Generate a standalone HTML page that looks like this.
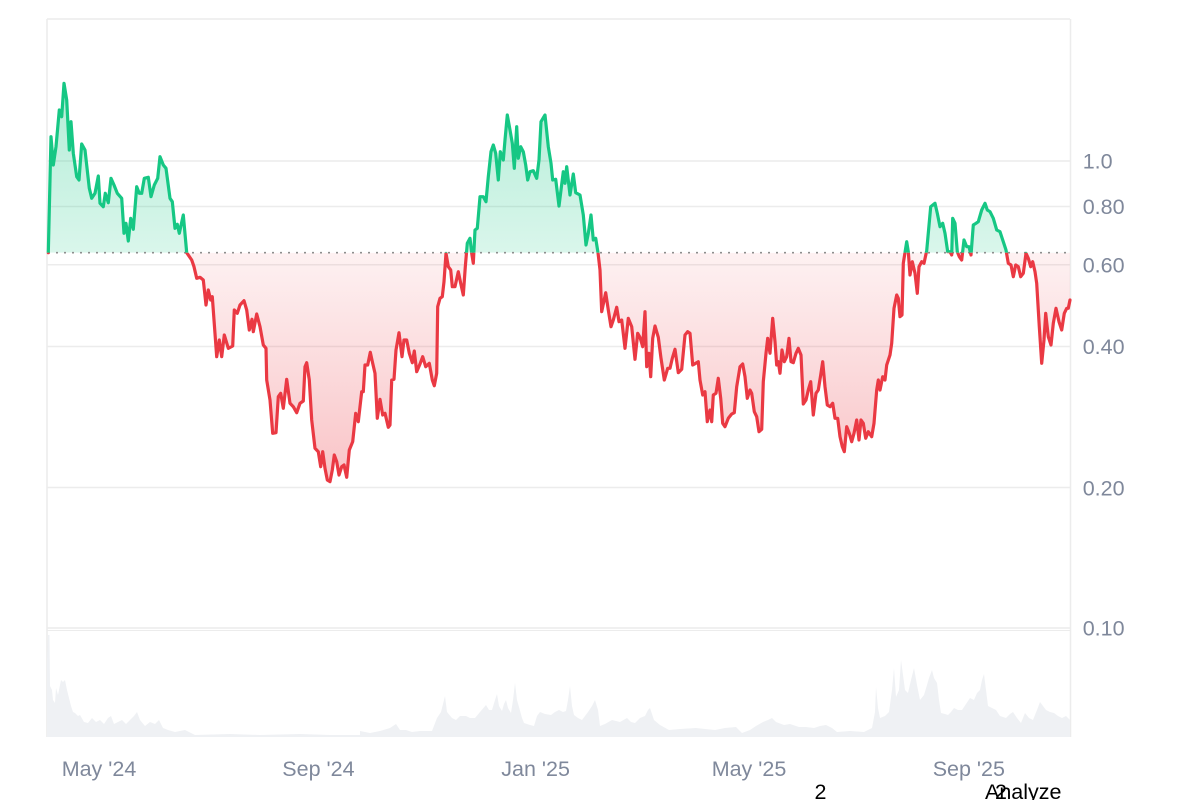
<!DOCTYPE html>
<html><head><meta charset="utf-8"><style>
html,body{margin:0;padding:0;background:#fff;}
body{width:1200px;height:800px;overflow:hidden;}
svg{display:block;}
text{font-family:"Liberation Sans",Arial,sans-serif;}
</style></head><body>
<svg width="1200" height="800" viewBox="0 0 1200 800" xmlns="http://www.w3.org/2000/svg">
<defs>
<linearGradient id="gg" gradientUnits="userSpaceOnUse" x1="0" y1="83" x2="0" y2="253">
<stop offset="0" stop-color="#16c784" stop-opacity="0.33"/>
<stop offset="1" stop-color="#16c784" stop-opacity="0.16"/>
</linearGradient>
<linearGradient id="rg" gradientUnits="userSpaceOnUse" x1="0" y1="253" x2="0" y2="482">
<stop offset="0" stop-color="#ea3943" stop-opacity="0.07"/>
<stop offset="1" stop-color="#ea3943" stop-opacity="0.30"/>
</linearGradient>
<clipPath id="ca"><rect x="0" y="0" width="1200" height="252.7"/></clipPath>
<clipPath id="cb"><rect x="0" y="252.7" width="1200" height="548"/></clipPath>
</defs>

<!-- grid -->
<g stroke="#ececec" stroke-width="1.5" fill="none">
<line x1="47" y1="19" x2="1070" y2="19"/>
<line x1="47" y1="19" x2="47" y2="737"/>
<line x1="1070.5" y1="19" x2="1070.5" y2="737"/>
<line x1="47" y1="161" x2="1070" y2="161"/>
<line x1="47" y1="206.5" x2="1070" y2="206.5"/>
<line x1="47" y1="264.8" x2="1070" y2="264.8"/>
<line x1="47" y1="346.5" x2="1070" y2="346.5"/>
<line x1="47" y1="487.5" x2="1070" y2="487.5"/>
<line x1="47" y1="628" x2="1070" y2="628"/>
<line x1="47" y1="630.5" x2="1070" y2="630.5" stroke-width="1"/>
</g>

<!-- volume -->
<polygon fill="#eff1f4" points="47,737 47,660 48,635 49.5,635 50,686 52,690 53,700 55,703 56,688 58,695 59,690 61,680 63,682 65,680 67,690 69,698 71,706 73,712 75,713 78,716 80,715 84,722 88,723 92,718 96,722 100,720 104,724 108,718 111,716 114,724 118,722 122,720 126,724 130,720 134,716 137,712 140,720 145,726 150,722 155,724 159,720 163,728 168,730 175,732 185,730 195,735 230,734 260,735 300,734 330,735 360,735 360,731 370,733 380,731 390,728 396,724 400,730 406,730 412,732 420,731 432,731 437,718 441,712 445,696 447,712 452,718 456,720 460,716 466,716 470,718 475,718 480,712 486,705 489,710 492,710 495,700 497,694 499,706 502,711 504,704 506,700 508,708 511,713 513,700 515,683 517,700 519,707 522,718 524,723 530,725 534,726 537,716 540,712 545,714 551,715 555,712 559,710 563,712 566,711 568,700 570,686 572,706 574,715 578,718 582,720 588,712 592,706 595,700 598,710 600,726 605,724 612,720 620,722 627,718 631,722 635,723 640,718 645,716 648,710 650,708 652,714 654,720 660,725 669,730 680,729 696,728 705,729 715,730 725,728 736,727 742,733 750,730 756,726 763,722 768,720 772,718 776,722 784,725 790,724 799,727 806,727 814,728 820,726 826,725 832,728 837,732 850,731 864,732 872,728 875,712 876,687 878,708 880,718 885,716 889,712 892,690 894,668 896,697 899,690 901,660 903,675 905,690 908,693 911,680 914,668 917,685 920,700 924,695 927,685 929,678 932,670 934,678 937,683 939,700 941,713 945,714 948,715 951,712 954,708 958,710 962,710 966,704 970,698 974,700 977,693 980,690 982,680 984,674 986,690 988,706 992,708 996,710 1000,716 1006,718 1010,714 1013,712 1017,718 1021,723 1025,713 1029,718 1033,720 1037,710 1040,702 1043,706 1046,710 1050,712 1054,713 1058,716 1062,718 1066,716 1070,720 1070,737"/>

<!-- area fills -->
<polygon fill="url(#gg)" clip-path="url(#ca)" points="48.3,252.7 51,136.7 53.3,165 56,146.7 59.3,110 61.7,116.7 64,83.3 66.7,100 69.3,150 71,121.7 73.3,153.3 76.7,176.7 79,180 81.7,144 85,150 89.3,188.3 91.7,198.3 95,193.3 98.3,176 100,203.3 103.3,206.7 105.3,193.3 108.3,202.7 111,178.3 114,185 117.3,193.3 121.7,198.3 124,233.3 126,223.3 128.3,241 130.7,218.3 133.3,229.3 136.7,186.7 139.3,193.3 141.7,193.3 144.3,178.3 148.3,177.3 151,196.7 154.3,185 157.7,178.3 160,156.7 163.3,165 166,168.3 170,198.3 172.3,201.7 175,228.3 177.3,224.3 179.3,233.3 183.3,215 186.7,252.7 467.3,252.7 467.3,243.3 470,238.3 471.7,253.3 473.3,263.3 475,230 477.3,228.3 480,196.7 483.3,196.7 486,201.7 488.3,176.7 491,151.7 493.3,145 495.7,153.3 498.3,180 500.3,151.7 503.3,160 505,140 507.3,115 510,130 512.3,143.3 514.3,168.3 516.7,126.7 518.3,158.3 520.7,146.7 523.3,151.7 525.7,165 527.7,180 530,171.7 533.3,170.7 536.7,178.3 539,160 541,121.7 545,115 548.3,146.7 551,163.3 552.7,180 555.7,179.3 559,206 561,190 563.3,171.7 565,183.3 566.7,166.7 570,195 573.3,174 575.7,192.7 580,195 583.3,215 586,245 588.3,233.3 591,215 593.3,240 595.7,238.3 598,252.7 903.3,252.7 903.3,263.3 906.7,241.7 908.3,251.7 910,275 912.3,261.7 915,273.3 917.3,293.3 919,266.7 921.7,261.7 924,263.3 926.7,250.7 930.7,206.7 935,203.3 937.3,213.3 940,226.7 942.7,223.3 945,233.3 947.7,251.7 950,251.7 951.7,255 952.7,218.3 955,223.3 957.3,251.7 959.3,256.7 961.7,260 964,240 966.7,246.7 969,246.7 971,255 973.3,225 976,223.3 978.3,221.7 981.7,210 985,203.3 987.3,210 990,211.7 993.3,218.3 996.7,230 1000,231.7 1003.3,241.7 1006,250 1008.3,263.3 1070,252.7"/>

<polygon fill="url(#rg)" clip-path="url(#cb)" points="48.3,252.7 186.7,252.7 191.7,260 194,266.7 196.7,278.3 200,277.3 203.3,280 206,305 208.3,290 210.7,300 212.3,296.7 216.7,356.7 219.3,340 221.7,356.7 224.3,335 228.3,348.3 232.7,346 234.3,310 237.3,313.3 240,305 244,300.7 246.7,310 249.3,330 252,319.3 253.3,331.7 256.7,314 260,326.7 263.3,345 266,348.3 266.7,380 270,400 272.7,433.3 276,432.7 278.3,396.7 280.7,393.3 283.3,408.3 286.7,379.3 290,403.3 293.3,406.7 296.7,412.7 300,403.3 303.3,401 305,366.7 306.7,362.7 309.3,380 311.7,420 315,448.3 318.3,451.7 320.7,466.7 322.7,451.7 325,468.3 327.3,480 330,481.7 332.3,470 334.3,455 336.7,461.7 339,475 341.7,466.7 344,465 346.7,477.3 349.3,450 352.7,441.7 355.7,413.3 358.3,421.7 361.7,391.7 363.3,391.7 365,365 367.7,365 370.3,352.3 372.7,363.3 375,373.3 377.3,418.3 380,399.3 382.7,415 385,413.3 388.3,427.3 390,425 391.7,380 394,379.3 396,350 399,332.7 402,356.7 404,340 406.7,340 409.3,353.3 412.3,362.7 414.3,351 416.7,371.7 420,364 422.7,356.7 425.7,366.7 429.3,363.3 432.3,380 434.3,385.7 436.7,373.3 437.7,306.7 440,298.3 442.3,296.7 444,281.7 446,253.3 448.3,266.7 450.7,270 452.3,286.7 455,286.7 458.3,271.7 460.7,283.3 463.3,295 465.3,266.7 467.3,253.3 470,252.7 471.7,253.3 473.3,263.3 475,252.7 598,252.7 600,270 601.7,311.7 605.7,292.7 608.3,310 611,326.7 613.3,320 616.7,307.3 619,321.7 621.7,320 625,348.3 628.3,318.3 631.7,326.7 635,359.3 637.7,333.3 640,337.3 642.7,346.7 645,311.7 646.7,366.7 649,353.3 650.7,376.7 652.7,338.3 655,326 658.3,337.3 661,358.3 664.3,380 667.7,368.3 670,368.3 672.3,358.3 675,349.3 678.3,372.7 681.7,369.3 685,335 687.7,331.7 690,333.3 692.7,365 695.7,363.3 698.3,361.7 700,380 702.7,395 705,391.7 707.3,421.7 710,410 711.7,421.7 713.3,395 716,393.3 718.3,378.3 720.7,398.3 722.7,423.3 725,426.7 728.3,418.3 731.7,414 734.3,412.7 736.7,386.7 740,366.7 742.7,364 745,376.7 747.3,398.3 750,390 751.7,393.3 754.3,411.7 756.7,416.7 759,431.7 761.7,429.3 763.3,381.7 766,353.3 767.7,338.3 770,353.3 772.7,318.3 775,341.7 776.7,365 778.3,361.7 780,373.3 782,350 784.3,361.7 786.7,356.7 789,338.3 791,361.7 793.3,362.7 796,353.3 798.3,348.3 801,355 803.3,404 806,400 808.3,390 810.7,381.7 813.3,415 816,393.3 818.3,390 820.7,375 822.7,361.7 825,386.7 827.3,405 830,406.7 832.7,403.3 835,418.3 837.7,418.3 840,436.7 842.3,446.7 844.3,451.7 846.7,426.7 849.3,433.3 851.7,441.7 854,433.3 856.7,420 859,440 861,420 863.3,423.3 865.7,438.3 868.3,431.7 871.7,436.7 874,423.3 876.7,390 878.3,380 880,390 882.7,376.7 885,380 886.7,365 890,355 891.7,343.3 894,308.3 896.7,295 898.3,298.3 900,316.7 902,315 903.3,263.3 905,252.7 906.7,252.7 908.3,252.7 910,275 912.3,261.7 915,273.3 917.3,293.3 919,266.7 921.7,261.7 924,263.3 926.7,252.7 950,252.7 951.7,255 953,252.7 957.3,252.7 959.3,256.7 961.7,260 964,252.7 969,252.7 971,255 973,252.7 1006,252.7 1008.3,263.3 1011,265 1013.3,276.7 1015.7,265 1018.3,266.7 1020.7,276.7 1023.3,273.3 1026,253.3 1028.3,258.3 1030.7,266.7 1032.7,261.7 1035,271.7 1036.7,283.3 1039.3,326.7 1041.7,363.3 1044,340 1045.7,313.3 1048.3,336.7 1051,345 1053.3,323.3 1056,308.3 1059,321.7 1061.7,330 1064.3,313.3 1066.7,308.3 1068.3,308.3 1070,300 1070,252.7"/>

<!-- baseline dotted -->
<line x1="48" y1="252.7" x2="1070" y2="252.7" stroke="#8e8e8e" stroke-width="1.7" stroke-dasharray="2 6"/>

<!-- price line: green above baseline -->
<polyline fill="none" stroke-width="3.2" stroke-linejoin="round" stroke-linecap="round" stroke="#16c784" clip-path="url(#ca)" points="48.3,252.7 51,136.7 53.3,165 56,146.7 59.3,110 61.7,116.7 64,83.3 66.7,100 69.3,150 71,121.7 73.3,153.3 76.7,176.7 79,180 81.7,144 85,150 89.3,188.3 91.7,198.3 95,193.3 98.3,176 100,203.3 103.3,206.7 105.3,193.3 108.3,202.7 111,178.3 114,185 117.3,193.3 121.7,198.3 124,233.3 126,223.3 128.3,241 130.7,218.3 133.3,229.3 136.7,186.7 139.3,193.3 141.7,193.3 144.3,178.3 148.3,177.3 151,196.7 154.3,185 157.7,178.3 160,156.7 163.3,165 166,168.3 170,198.3 172.3,201.7 175,228.3 177.3,224.3 179.3,233.3 183.3,215 186.7,252.7 191.7,260 194,266.7 196.7,278.3 200,277.3 203.3,280 206,305 208.3,290 210.7,300 212.3,296.7 216.7,356.7 219.3,340 221.7,356.7 224.3,335 228.3,348.3 232.7,346 234.3,310 237.3,313.3 240,305 244,300.7 246.7,310 249.3,330 252,319.3 253.3,331.7 256.7,314 260,326.7 263.3,345 266,348.3 266.7,380 270,400 272.7,433.3 276,432.7 278.3,396.7 280.7,393.3 283.3,408.3 286.7,379.3 290,403.3 293.3,406.7 296.7,412.7 300,403.3 303.3,401 305,366.7 306.7,362.7 309.3,380 311.7,420 315,448.3 318.3,451.7 320.7,466.7 322.7,451.7 325,468.3 327.3,480 330,481.7 332.3,470 334.3,455 336.7,461.7 339,475 341.7,466.7 344,465 346.7,477.3 349.3,450 352.7,441.7 355.7,413.3 358.3,421.7 361.7,391.7 363.3,391.7 365,365 367.7,365 370.3,352.3 372.7,363.3 375,373.3 377.3,418.3 380,399.3 382.7,415 385,413.3 388.3,427.3 390,425 391.7,380 394,379.3 396,350 399,332.7 402,356.7 404,340 406.7,340 409.3,353.3 412.3,362.7 414.3,351 416.7,371.7 420,364 422.7,356.7 425.7,366.7 429.3,363.3 432.3,380 434.3,385.7 436.7,373.3 437.7,306.7 440,298.3 442.3,296.7 444,281.7 446,253.3 448.3,266.7 450.7,270 452.3,286.7 455,286.7 458.3,271.7 460.7,283.3 463.3,295 465.3,266.7 467.3,243.3 470,238.3 471.7,253.3 473.3,263.3 475,230 477.3,228.3 480,196.7 483.3,196.7 486,201.7 488.3,176.7 491,151.7 493.3,145 495.7,153.3 498.3,180 500.3,151.7 503.3,160 505,140 507.3,115 510,130 512.3,143.3 514.3,168.3 516.7,126.7 518.3,158.3 520.7,146.7 523.3,151.7 525.7,165 527.7,180 530,171.7 533.3,170.7 536.7,178.3 539,160 541,121.7 545,115 548.3,146.7 551,163.3 552.7,180 555.7,179.3 559,206 561,190 563.3,171.7 565,183.3 566.7,166.7 570,195 573.3,174 575.7,192.7 580,195 583.3,215 586,245 588.3,233.3 591,215 593.3,240 595.7,238.3 598,252.7 600,270 601.7,311.7 605.7,292.7 608.3,310 611,326.7 613.3,320 616.7,307.3 619,321.7 621.7,320 625,348.3 628.3,318.3 631.7,326.7 635,359.3 637.7,333.3 640,337.3 642.7,346.7 645,311.7 646.7,366.7 649,353.3 650.7,376.7 652.7,338.3 655,326 658.3,337.3 661,358.3 664.3,380 667.7,368.3 670,368.3 672.3,358.3 675,349.3 678.3,372.7 681.7,369.3 685,335 687.7,331.7 690,333.3 692.7,365 695.7,363.3 698.3,361.7 700,380 702.7,395 705,391.7 707.3,421.7 710,410 711.7,421.7 713.3,395 716,393.3 718.3,378.3 720.7,398.3 722.7,423.3 725,426.7 728.3,418.3 731.7,414 734.3,412.7 736.7,386.7 740,366.7 742.7,364 745,376.7 747.3,398.3 750,390 751.7,393.3 754.3,411.7 756.7,416.7 759,431.7 761.7,429.3 763.3,381.7 766,353.3 767.7,338.3 770,353.3 772.7,318.3 775,341.7 776.7,365 778.3,361.7 780,373.3 782,350 784.3,361.7 786.7,356.7 789,338.3 791,361.7 793.3,362.7 796,353.3 798.3,348.3 801,355 803.3,404 806,400 808.3,390 810.7,381.7 813.3,415 816,393.3 818.3,390 820.7,375 822.7,361.7 825,386.7 827.3,405 830,406.7 832.7,403.3 835,418.3 837.7,418.3 840,436.7 842.3,446.7 844.3,451.7 846.7,426.7 849.3,433.3 851.7,441.7 854,433.3 856.7,420 859,440 861,420 863.3,423.3 865.7,438.3 868.3,431.7 871.7,436.7 874,423.3 876.7,390 878.3,380 880,390 882.7,376.7 885,380 886.7,365 890,355 891.7,343.3 894,308.3 896.7,295 898.3,298.3 900,316.7 902,315 903.3,263.3 906.7,241.7 908.3,251.7 910,275 912.3,261.7 915,273.3 917.3,293.3 919,266.7 921.7,261.7 924,263.3 926.7,250.7 930.7,206.7 935,203.3 937.3,213.3 940,226.7 942.7,223.3 945,233.3 947.7,251.7 950,251.7 951.7,255 952.7,218.3 955,223.3 957.3,251.7 959.3,256.7 961.7,260 964,240 966.7,246.7 969,246.7 971,255 973.3,225 976,223.3 978.3,221.7 981.7,210 985,203.3 987.3,210 990,211.7 993.3,218.3 996.7,230 1000,231.7 1003.3,241.7 1006,250 1008.3,263.3 1011,265 1013.3,276.7 1015.7,265 1018.3,266.7 1020.7,276.7 1023.3,273.3 1026,253.3 1028.3,258.3 1030.7,266.7 1032.7,261.7 1035,271.7 1036.7,283.3 1039.3,326.7 1041.7,363.3 1044,340 1045.7,313.3 1048.3,336.7 1051,345 1053.3,323.3 1056,308.3 1059,321.7 1061.7,330 1064.3,313.3 1066.7,308.3 1068.3,308.3 1070,300"/>

<!-- price line: red below baseline -->
<polyline fill="none" stroke-width="3.2" stroke-linejoin="round" stroke-linecap="round" stroke="#ea3943" clip-path="url(#cb)" points="48.3,252.7 51,136.7 53.3,165 56,146.7 59.3,110 61.7,116.7 64,83.3 66.7,100 69.3,150 71,121.7 73.3,153.3 76.7,176.7 79,180 81.7,144 85,150 89.3,188.3 91.7,198.3 95,193.3 98.3,176 100,203.3 103.3,206.7 105.3,193.3 108.3,202.7 111,178.3 114,185 117.3,193.3 121.7,198.3 124,233.3 126,223.3 128.3,241 130.7,218.3 133.3,229.3 136.7,186.7 139.3,193.3 141.7,193.3 144.3,178.3 148.3,177.3 151,196.7 154.3,185 157.7,178.3 160,156.7 163.3,165 166,168.3 170,198.3 172.3,201.7 175,228.3 177.3,224.3 179.3,233.3 183.3,215 186.7,252.7 191.7,260 194,266.7 196.7,278.3 200,277.3 203.3,280 206,305 208.3,290 210.7,300 212.3,296.7 216.7,356.7 219.3,340 221.7,356.7 224.3,335 228.3,348.3 232.7,346 234.3,310 237.3,313.3 240,305 244,300.7 246.7,310 249.3,330 252,319.3 253.3,331.7 256.7,314 260,326.7 263.3,345 266,348.3 266.7,380 270,400 272.7,433.3 276,432.7 278.3,396.7 280.7,393.3 283.3,408.3 286.7,379.3 290,403.3 293.3,406.7 296.7,412.7 300,403.3 303.3,401 305,366.7 306.7,362.7 309.3,380 311.7,420 315,448.3 318.3,451.7 320.7,466.7 322.7,451.7 325,468.3 327.3,480 330,481.7 332.3,470 334.3,455 336.7,461.7 339,475 341.7,466.7 344,465 346.7,477.3 349.3,450 352.7,441.7 355.7,413.3 358.3,421.7 361.7,391.7 363.3,391.7 365,365 367.7,365 370.3,352.3 372.7,363.3 375,373.3 377.3,418.3 380,399.3 382.7,415 385,413.3 388.3,427.3 390,425 391.7,380 394,379.3 396,350 399,332.7 402,356.7 404,340 406.7,340 409.3,353.3 412.3,362.7 414.3,351 416.7,371.7 420,364 422.7,356.7 425.7,366.7 429.3,363.3 432.3,380 434.3,385.7 436.7,373.3 437.7,306.7 440,298.3 442.3,296.7 444,281.7 446,253.3 448.3,266.7 450.7,270 452.3,286.7 455,286.7 458.3,271.7 460.7,283.3 463.3,295 465.3,266.7 467.3,243.3 470,238.3 471.7,253.3 473.3,263.3 475,230 477.3,228.3 480,196.7 483.3,196.7 486,201.7 488.3,176.7 491,151.7 493.3,145 495.7,153.3 498.3,180 500.3,151.7 503.3,160 505,140 507.3,115 510,130 512.3,143.3 514.3,168.3 516.7,126.7 518.3,158.3 520.7,146.7 523.3,151.7 525.7,165 527.7,180 530,171.7 533.3,170.7 536.7,178.3 539,160 541,121.7 545,115 548.3,146.7 551,163.3 552.7,180 555.7,179.3 559,206 561,190 563.3,171.7 565,183.3 566.7,166.7 570,195 573.3,174 575.7,192.7 580,195 583.3,215 586,245 588.3,233.3 591,215 593.3,240 595.7,238.3 598,252.7 600,270 601.7,311.7 605.7,292.7 608.3,310 611,326.7 613.3,320 616.7,307.3 619,321.7 621.7,320 625,348.3 628.3,318.3 631.7,326.7 635,359.3 637.7,333.3 640,337.3 642.7,346.7 645,311.7 646.7,366.7 649,353.3 650.7,376.7 652.7,338.3 655,326 658.3,337.3 661,358.3 664.3,380 667.7,368.3 670,368.3 672.3,358.3 675,349.3 678.3,372.7 681.7,369.3 685,335 687.7,331.7 690,333.3 692.7,365 695.7,363.3 698.3,361.7 700,380 702.7,395 705,391.7 707.3,421.7 710,410 711.7,421.7 713.3,395 716,393.3 718.3,378.3 720.7,398.3 722.7,423.3 725,426.7 728.3,418.3 731.7,414 734.3,412.7 736.7,386.7 740,366.7 742.7,364 745,376.7 747.3,398.3 750,390 751.7,393.3 754.3,411.7 756.7,416.7 759,431.7 761.7,429.3 763.3,381.7 766,353.3 767.7,338.3 770,353.3 772.7,318.3 775,341.7 776.7,365 778.3,361.7 780,373.3 782,350 784.3,361.7 786.7,356.7 789,338.3 791,361.7 793.3,362.7 796,353.3 798.3,348.3 801,355 803.3,404 806,400 808.3,390 810.7,381.7 813.3,415 816,393.3 818.3,390 820.7,375 822.7,361.7 825,386.7 827.3,405 830,406.7 832.7,403.3 835,418.3 837.7,418.3 840,436.7 842.3,446.7 844.3,451.7 846.7,426.7 849.3,433.3 851.7,441.7 854,433.3 856.7,420 859,440 861,420 863.3,423.3 865.7,438.3 868.3,431.7 871.7,436.7 874,423.3 876.7,390 878.3,380 880,390 882.7,376.7 885,380 886.7,365 890,355 891.7,343.3 894,308.3 896.7,295 898.3,298.3 900,316.7 902,315 903.3,263.3 906.7,241.7 908.3,251.7 910,275 912.3,261.7 915,273.3 917.3,293.3 919,266.7 921.7,261.7 924,263.3 926.7,250.7 930.7,206.7 935,203.3 937.3,213.3 940,226.7 942.7,223.3 945,233.3 947.7,251.7 950,251.7 951.7,255 952.7,218.3 955,223.3 957.3,251.7 959.3,256.7 961.7,260 964,240 966.7,246.7 969,246.7 971,255 973.3,225 976,223.3 978.3,221.7 981.7,210 985,203.3 987.3,210 990,211.7 993.3,218.3 996.7,230 1000,231.7 1003.3,241.7 1006,250 1008.3,263.3 1011,265 1013.3,276.7 1015.7,265 1018.3,266.7 1020.7,276.7 1023.3,273.3 1026,253.3 1028.3,258.3 1030.7,266.7 1032.7,261.7 1035,271.7 1036.7,283.3 1039.3,326.7 1041.7,363.3 1044,340 1045.7,313.3 1048.3,336.7 1051,345 1053.3,323.3 1056,308.3 1059,321.7 1061.7,330 1064.3,313.3 1066.7,308.3 1068.3,308.3 1070,300"/>

<!-- y labels -->
<g fill="#7f889b" font-size="21.5">
<text x="1082.7" y="168.3">1.0</text>
<text x="1082.7" y="214">0.80</text>
<text x="1082.7" y="272.3">0.60</text>
<text x="1082.7" y="354">0.40</text>
<text x="1082.7" y="495.3">0.20</text>
<text x="1082.7" y="635.7">0.10</text>
</g>
<!-- x labels -->
<g fill="#7f889b" font-size="21.5">
<text x="61.7" y="776">May '24</text>
<text x="282.3" y="776">Sep '24</text>
<text x="501.3" y="776">Jan '25</text>
<text x="711.7" y="776">May '25</text>
<text x="932.7" y="776">Sep '25</text>
</g>
<g fill="#000" font-size="21.5">
<text x="814.5" y="799">2</text>
<text x="985" y="799">Analyze</text>
<text x="995" y="799">2</text>
</g>
</svg>
</body></html>
